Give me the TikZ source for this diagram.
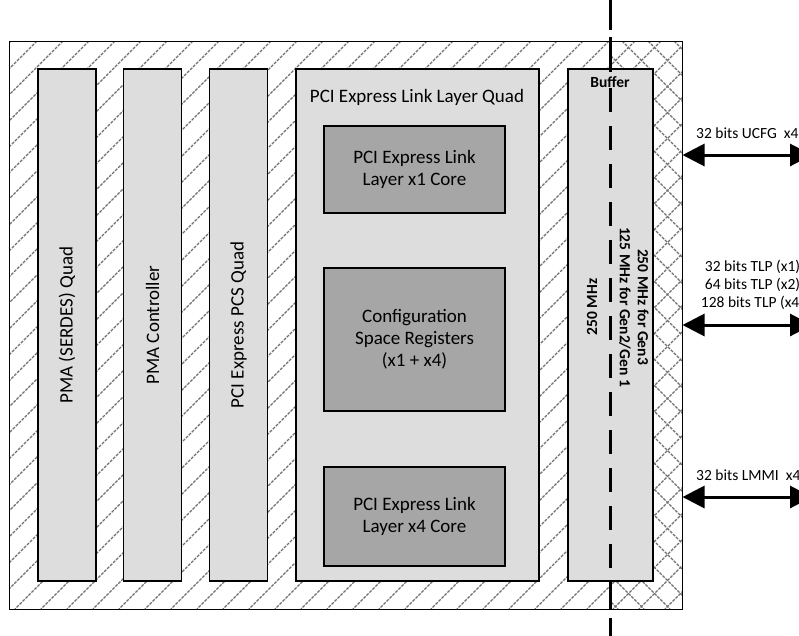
\documentclass[tikz,border=0pt]{standalone}
\usepackage{fontspec}
\setmainfont{Carlito}
\usetikzlibrary{arrows.meta}
\definecolor{boxgray}{HTML}{DDDDDD}
\definecolor{coregray}{HTML}{A6A6A6}
\definecolor{hatchgray}{HTML}{707070}
\begin{document}
\begin{tikzpicture}[x=1pt,y=-1pt,
  blk/.style={draw=black, line width=1.5pt, fill=boxgray, inner sep=0pt},
  core/.style={draw=black, line width=1.5pt, fill=coregray, inner sep=0pt, align=center, font=\fontsize{19}{22}\selectfont},
  vtext/.style={rotate=90, inner sep=0pt, font=\fontsize{19}{22}\selectfont},
  txt/.style={inner sep=0pt, align=center, font=\fontsize{19}{22}\selectfont},
  btxt/.style={inner sep=0pt, align=center, font=\bfseries\fontsize{15.5}{18}\selectfont},
  lbl/.style={inner sep=0pt, align=center, font=\fontsize{15.5}{18}\selectfont},
  bus/.style={line width=3pt, {Triangle[length=22pt,width=22pt]}-{Triangle[length=22pt,width=22pt]}},
  hatchline/.style={draw=hatchgray, line width=1.1pt, dash pattern=on 3pt off 1.2pt},
  clockline/.style={line width=3pt}
]
\useasboundingbox (0,0) rectangle (799,635);

% hatching of the outer block
\begin{scope}
  \clip (9,41) rectangle (682,609);
  \foreach \x in {11,37,...,1270} \draw[hatchline] (\x,41) -- ++(-568,568);
\end{scope}
\begin{scope}
  \clip (610,41) rectangle (682,609);
  \foreach \x in {24,50,...,700} \draw[hatchline] (\x,41) -- ++(568,568);
\end{scope}

\node[draw=black, line width=1pt, minimum width=673pt, minimum height=568pt, inner sep=0pt] (outer) at (345.5,325) {};

% columns
\node[blk, minimum width=58pt, minimum height=512pt] (serdes) at (67,325) {};
\node[blk, minimum width=58pt, minimum height=512pt] (pmactl) at (152.5,325) {};
\node[blk, minimum width=58pt, minimum height=512pt] (pcs) at (238.5,325) {};
\node[blk, minimum width=243pt, minimum height=512pt] (llquad) at (417.5,325) {};
\node[blk, minimum width=85pt, minimum height=512pt] (buffer) at (610.5,325) {};

\node[vtext] (serdesT) at (serdes.center) {PMA (SERDES) Quad};
\node[vtext] (pmactlT) at (pmactl.center) {PMA Controller};
\node[vtext] (pcsT) at (pcs.center) {PCI Express PCS Quad};

\node[txt] (llquadT) at (417,97) {PCI Express Link Layer Quad};
\node[core, minimum width=181pt, minimum height=87pt] (x1core) at (414.5,169.5) {PCI Express Link\\Layer x1 Core};
\node[core, minimum width=181pt, minimum height=143pt] (cfg) at (414.5,339.5) {Configuration\\Space Registers\\(x1 + x4)};
\node[core, minimum width=181pt, minimum height=99pt] (x4core) at (414.5,516.5) {PCI Express Link\\Layer x4 Core};

% clock domain boundary
\foreach \a/\b in {0/30,37/72,88/112,126/150,164/188,202/226,240/264,278/302,316/340,354/378,392/416,430/454,468/492,506/530,544/568,582/609,618/642}
  \draw[clockline] (610,\a) -- (610,\b);

\node[btxt] (bufT) at (610,82) {Buffer};
\node[btxt, rotate=90] (clkA) at (592,307) {250 MHz};
\node[btxt, rotate=-90] (clkB) at (634,307) {250 MHz for Gen3\\125 MHz for Gen2/Gen 1};

% interfaces
\coordinate (ucfgE) at (812,155);
\coordinate (tlpE) at (812,325);
\coordinate (lmmiE) at (812,497);
\draw[bus] (outer.east |- ucfgE) -- (ucfgE);
\draw[bus] (outer.east |- tlpE) -- (tlpE);
\draw[bus] (outer.east |- lmmiE) -- (lmmiE);

\node[lbl, anchor=west] (ucfgT) at (696,133) {32 bits UCFG\ \ x4};
\node[lbl] (tlpT) at (752.5,285) {32 bits TLP (x1)\\64 bits TLP (x2)\\128 bits TLP (x4)};
\node[lbl, anchor=west] (lmmiT) at (696,475) {32 bits LMMI\ \ x4};
\end{tikzpicture}
\end{document}
